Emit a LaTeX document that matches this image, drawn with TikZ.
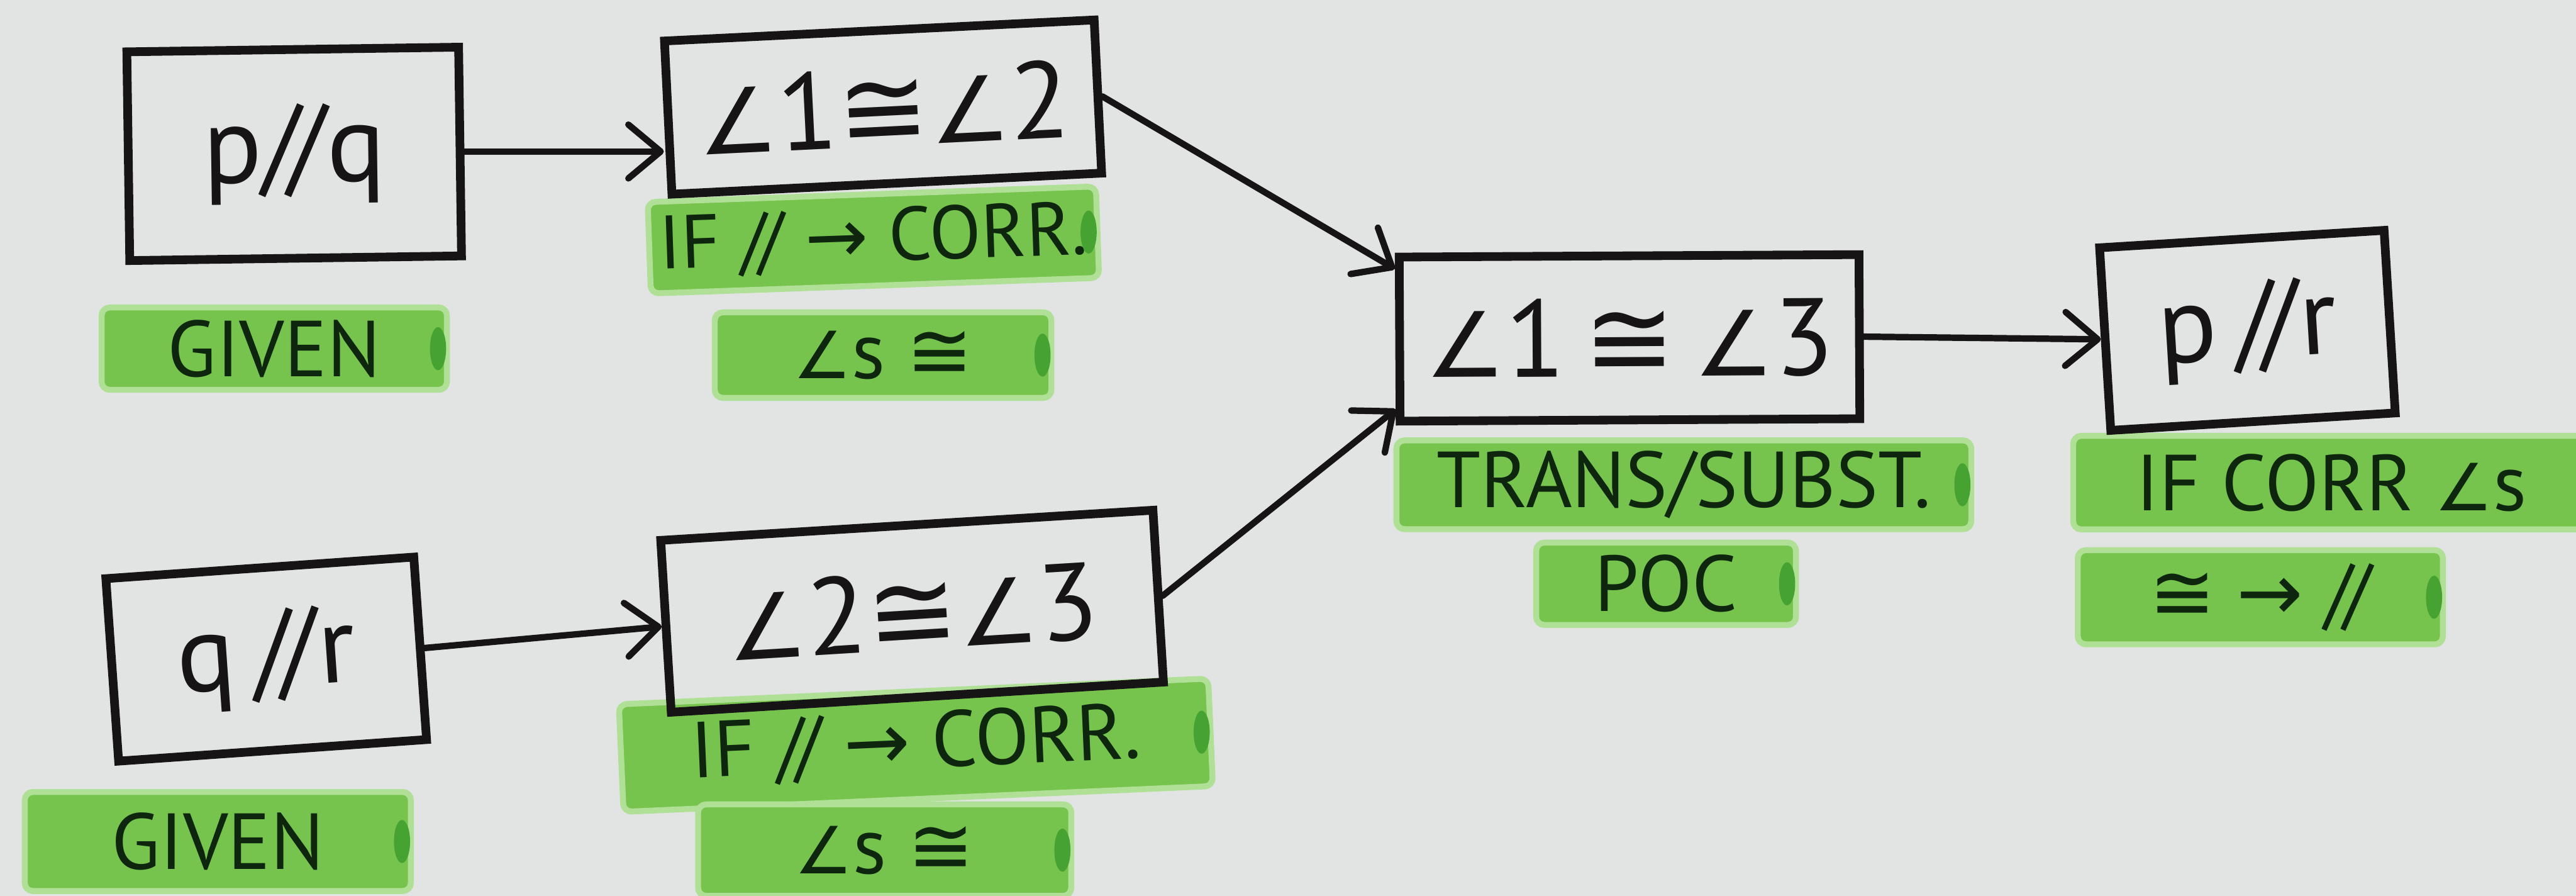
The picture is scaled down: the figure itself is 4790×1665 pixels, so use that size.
\documentclass[tikz,border=0pt]{standalone}
\usepackage{fontspec}
\setmainfont{PT Sans}
\newfontfamily\symf{DejaVu Sans}
\usetikzlibrary{arrows.meta}

\definecolor{paper}{RGB}{225,228,227}
\definecolor{ink}{RGB}{22,20,20}
\definecolor{marker}{RGB}{118,196,78}
\definecolor{markerhalo}{RGB}{176,224,150}
\definecolor{markerdot}{RGB}{70,163,50}
\definecolor{greenink}{RGB}{14,38,14}

% symbols taken from DejaVu Sans
\newcommand{\ang}{\scalebox{0.82}{\symf ∠}}
\newcommand{\cng}{{\symf ≅}}
\newcommand{\thento}{{\symf →}}
\newcommand{\para}{/\kern-0.12em/}

\begin{document}
\begin{tikzpicture}[x=0.1mm,y=-0.1mm,
  stmt/.style={draw=ink, line width=4.6pt, inner sep=0pt, text=ink,
    font=\fontsize{58}{60}\selectfont},
  reason/.style={fill=marker, draw=markerhalo, line width=1.1mm,
    rounded corners=1.5mm, inner sep=0pt, text=greenink,
    font=\fontsize{42}{44}\selectfont},
  link/.style={draw=ink, line width=3.4pt, line cap=round,
    -{Straight Barb[length=6mm,width=10mm,round]}}
]
\fill[paper] (0,0) rectangle (4790,1665);
\useasboundingbox (0,0) rectangle (4790,1665);

% reasons (highlighted)
\node[reason, minimum width=64.2mm, minimum height=15.3mm] (LA) at (510,648) {GIVEN};
\node[reason, minimum width=83.4mm, minimum height=17mm, rotate=2, font=\fontsize{40}{44}\selectfont] (LB1) at (1624,446) {IF \para\ \thento\ CORR.};
\node[reason, minimum width=62.6mm, minimum height=15.9mm] (LB2) at (1642,660) {\ang s \cng};
\node[reason, minimum width=106.9mm, minimum height=16.5mm] (LC1) at (3131,901) {TRANS/SUBST.};
\node[reason, minimum width=48.3mm, minimum height=15.3mm] (LC2) at (3098,1085) {POC};
\node[reason, minimum width=96mm, minimum height=17.4mm] (LD1) at (4335,897) {IF CORR \ang s};
\node[reason, minimum width=67.9mm, minimum height=17.5mm] (LD2) at (4203,1110) {\cng\ \thento\ \para};
\node[reason, minimum width=71.8mm, minimum height=18.4mm] (LE) at (405,1564) {GIVEN};
\node[reason, minimum width=109.7mm, minimum height=20mm, rotate=2.5] (LF1) at (1703,1385) {IF \para\ \thento\ CORR.};
\node[reason, minimum width=69.4mm, minimum height=17mm, text depth=0pt] (LF2) at (1645,1580) {\ang s \cng};

% marker end dots
\foreach \n in {LA,LB1,LB2,LC1,LC2,LD2,LE,LF1,LF2}
  \fill[markerdot] ([xshift=-2.2mm]\n.east) ellipse [x radius=1.5mm, y radius=4mm];

% statements
\node[stmt, minimum width=61.7mm, minimum height=38.8mm, rotate=0.8] (A) at (547,286) {p\para q};
\node[stmt, minimum width=80mm, minimum height=28.5mm, rotate=2.8] (B) at (1642,199) {\ang1\cng\ang2};
\node[stmt, minimum width=85.5mm, minimum height=30.5mm, rotate=0.3] (C) at (3030,628) {\ang1\,\cng\,\ang3};
\node[stmt, minimum width=53mm, minimum height=34mm, rotate=3.5] (D) at (4179,614) {p\,\para r};
\node[stmt, minimum width=57.4mm, minimum height=34mm, rotate=4] (E) at (495,1225) {q\,\para r};
\node[stmt, minimum width=91.7mm, minimum height=32mm, rotate=3.5] (F) at (1696,1136) {\ang2\cng\ang3};

% implications
\draw[link] (A.east) -- (A.east -| B.west);
\draw[link] (E.east) -- (F.west);
\draw[link] (B.east) -- ([yshift=-3mm]C.north west);
\draw[link] (F.east) -- ([yshift=3mm]C.south west);
\draw[link] (C.east) -- (D.west);
\end{tikzpicture}
\end{document}
